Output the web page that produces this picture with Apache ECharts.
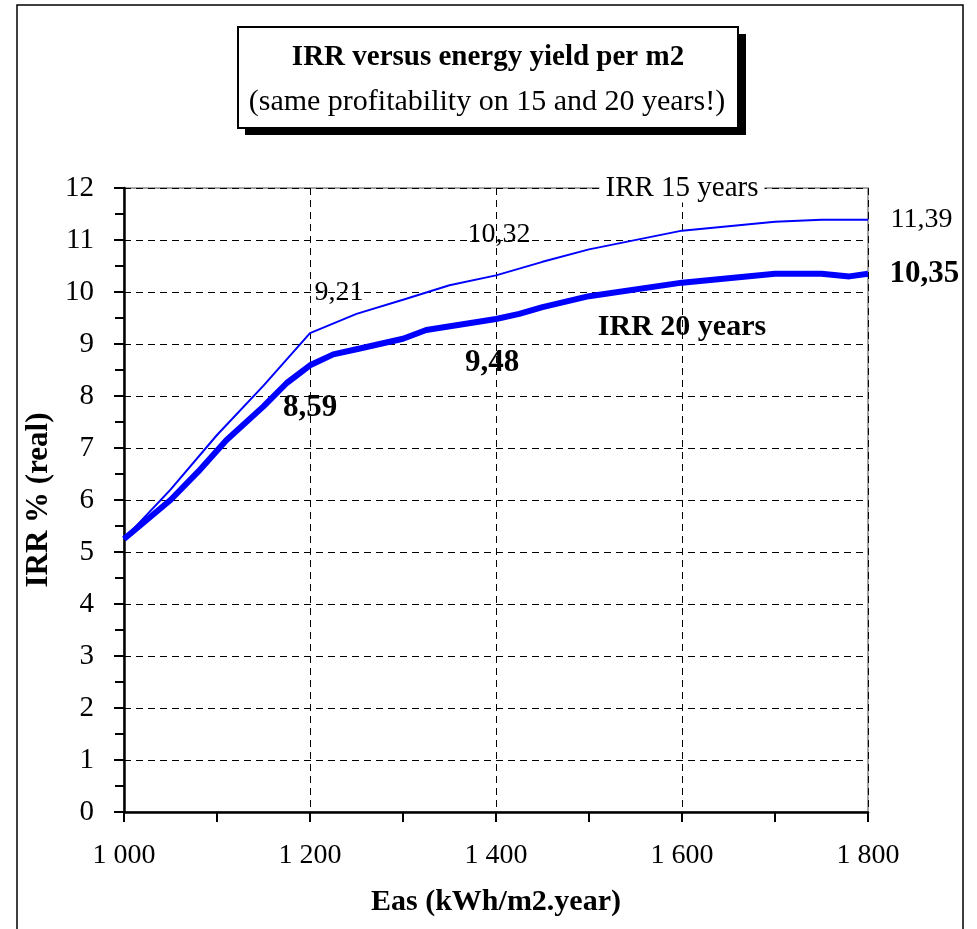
<!DOCTYPE html>
<html>
<head>
<meta charset="utf-8">
<script src="https://cdn.jsdelivr.net/npm/echarts@6/dist/echarts.min.js"></script>
<style>
  html, body { margin: 0; padding: 0; background: #fff; }
  #main { width: 977px; height: 929px; }
</style>
</head>
<body>
<div id="main"></div>
<script>
// energy yield (kWh/m2.year) and IRR values
var eas15 = [1000, 1050, 1100, 1150, 1200, 1250, 1300, 1350, 1400, 1450, 1500, 1600, 1700, 1750, 1800];
var irr15 = [5.25, 6.2, 7.25, 8.2, 9.21, 9.58, 9.85, 10.13, 10.32, 10.58, 10.82, 11.18, 11.35, 11.39, 11.39];
var eas20 = [1000, 1050, 1080, 1110, 1150, 1175, 1200, 1225, 1250, 1300, 1325, 1400, 1425, 1450, 1500, 1600, 1700, 1750, 1780, 1800];
var irr20 = [5.25, 6.0, 6.55, 7.15, 7.8, 8.25, 8.59, 8.8, 8.9, 9.1, 9.27, 9.48, 9.58, 9.71, 9.92, 10.18, 10.35, 10.35, 10.3, 10.35];
// which points get a value label
var labelled15 = [1200, 1400, 1800];
var labelled20 = [1200, 1400, 1800];
var FONT = "'Liberation Serif', 'Times New Roman', serif";

function fmt(v) {
    return v.toFixed(2).replace('.', ',');
}

function buildData(xs, ys, labelled, bold, labelStyles) {
    var out = [];
    for (var i = 0; i < xs.length; i++) {
        var item = { value: [xs[i], ys[i]] };
        var k = labelled.indexOf(xs[i]);
        if (k >= 0) {
            item.label = Object.assign({
                show: true,
                formatter: fmt(ys[i]),
                fontFamily: FONT,
                fontSize: bold ? 31 : 28,
                fontWeight: bold ? 'bold' : 'normal',
                color: '#000'
            }, labelStyles[k]);
        }
        out.push(item);
    }
    return out;
}

var myChart = echarts.init(document.getElementById('main'));
var option = {
    backgroundColor: '#fff',
    animation: false,
    grid: {
        left: 124, right: 109, top: 188, bottom: 117,
        show: true, borderColor: '#888', borderWidth: 1.5,
        backgroundColor: 'transparent'
    },
    xAxis: {
        type: 'value', min: 1000, max: 1800, interval: 200,
        name: 'Eas (kWh/m2.year)', nameLocation: 'middle', nameGap: 75,
        nameTextStyle: { fontFamily: FONT, fontSize: 30, fontWeight: 'bold', color: '#000' },
        axisLine: { lineStyle: { color: '#000', width: 2.5 } },
        axisTick: { show: true, length: 10, lineStyle: { color: '#000', width: 2 } },
        minorTick: { show: true, splitNumber: 2, length: 10, lineStyle: { color: '#000', width: 2 } },
        axisLabel: {
            fontFamily: FONT, fontSize: 28, color: '#000', margin: 30,
            formatter: function (v) { return String(v).replace(/^(\d)(\d{3})$/, '$1 $2'); }
        },
        splitLine: { show: true, lineStyle: { color: '#000', type: [7, 5], width: 1 } }
    },
    yAxis: {
        type: 'value', min: 0, max: 12, interval: 1,
        name: 'IRR % (real)', nameLocation: 'middle', nameGap: 62,
        nameTextStyle: { fontFamily: FONT, fontSize: 31, fontWeight: 'bold', color: '#000' },
        axisLine: { show: true, lineStyle: { color: '#000', width: 2.5 } },
        axisTick: { show: true, length: 10, lineStyle: { color: '#000', width: 2 } },
        minorTick: { show: true, splitNumber: 2, length: 9, lineStyle: { color: '#000', width: 2 } },
        axisLabel: { fontFamily: FONT, fontSize: 29, color: '#000', margin: 30 },
        splitLine: { show: true, lineStyle: { color: '#000', type: [7, 5], width: 1 } }
    },
    series: [{
        name: 'IRR 15 years',
        type: 'line',
        symbol: 'circle', symbolSize: 1, showSymbol: true,
        lineStyle: { color: '#0000ff', width: 2 },
        itemStyle: { color: '#0000ff' },
        data: buildData(eas15, irr15, labelled15, false, [
            { position: 'top', distance: 26, offset: [29, 0] },
            { position: 'top', distance: 26, offset: [3, 0] },
            { position: 'right', distance: 22 }
        ]),
        markPoint: {
            symbol: 'rect', symbolSize: 1, itemStyle: { color: 'transparent' },
            data: [{
                coord: [1600, 12],
                label: {
                    show: true, position: 'inside', formatter: 'IRR 15 years',
                    fontFamily: FONT, fontSize: 29, color: '#000',
                    backgroundColor: '#fff', padding: [0, 6]
                }
            }]
        }
    }, {
        name: 'IRR 20 years',
        type: 'line',
        symbol: 'circle', symbolSize: 1, showSymbol: true,
        lineStyle: { color: '#0000ff', width: 6 },
        itemStyle: { color: '#0000ff' },
        data: buildData(eas20, irr20, labelled20, true, [
            { position: 'bottom', distance: 27, offset: [0, 0] },
            { position: 'bottom', distance: 28, offset: [-4, 0] },
            { position: 'right', distance: 21 }
        ]),
        markPoint: {
            symbol: 'rect', symbolSize: 1, itemStyle: { color: 'transparent' },
            data: [{
                coord: [1600, 9.33],
                label: {
                    show: true, position: 'inside', formatter: 'IRR 20 years',
                    fontFamily: FONT, fontSize: 30, fontWeight: 'bold', color: '#000'
                }
            }]
        }
    }],
    graphic: [
        // outer frame
        { type: 'rect', shape: { x: 17, y: 5, width: 946, height: 940 },
          style: { fill: 'none', stroke: '#000', lineWidth: 1.5 }, silent: true },
        // title box: shadow, then box
        { type: 'rect', shape: { x: 245, y: 34, width: 501, height: 101 },
          style: { fill: '#000' } },
        { type: 'rect', shape: { x: 238, y: 27, width: 500, height: 101 },
          style: { fill: '#fff', stroke: '#000', lineWidth: 2 } },
        { type: 'text', x: 488, y: 58, style: {
            text: 'IRR versus energy yield per m2', fontFamily: FONT, fontSize: 29,
            fontWeight: 'bold', fill: '#000', align: 'center', verticalAlign: 'middle' } },
        { type: 'text', x: 487, y: 102, style: {
            text: '(same profitability on 15 and 20 years!)', fontFamily: FONT, fontSize: 30,
            fill: '#000', align: 'center', verticalAlign: 'middle' } }
    ]
};
myChart.setOption(option);
</script>
</body>
</html>
